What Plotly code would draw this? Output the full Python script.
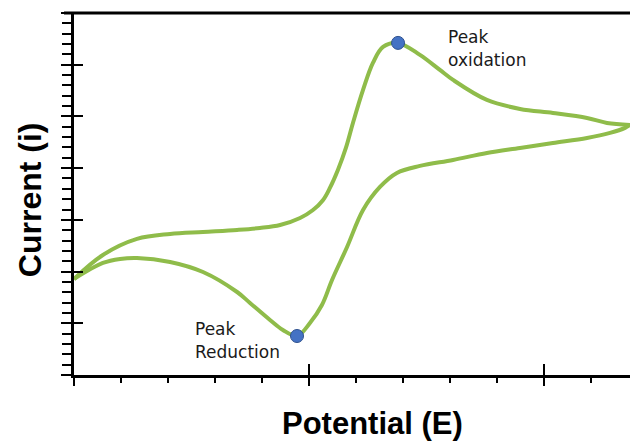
import plotly.graph_objects as go

# Forward (oxidation) scan, left to right
upper_x = [0.0, 0.123, 0.268, 0.409, 0.549, 0.694, 0.791, 0.877, 0.962, 1.017, 1.060, 1.089,
           1.123, 1.157, 1.187, 1.230, 1.272, 1.315, 1.379, 1.472, 1.557, 1.613, 1.757, 1.898,
           2.038, 2.183, 2.268, 2.366]
upper_y = [1.857, 2.321, 2.631, 2.727, 2.766, 2.805, 2.843, 2.901, 3.037, 3.191, 3.385, 3.617,
           3.965, 4.391, 4.874, 5.513, 6.035, 6.344, 6.422, 6.190, 5.899, 5.706, 5.319, 5.145,
           5.068, 4.971, 4.874, 4.836]

# Reverse (reduction) scan, right to left
lower_x = [2.366, 2.345, 2.281, 2.183, 2.038, 1.898, 1.757, 1.613, 1.472, 1.374, 1.302, 1.230,
           1.162, 1.098, 1.055, 1.004, 0.949, 0.889, 0.834, 0.749, 0.694, 0.549, 0.409, 0.268,
           0.196, 0.123, 0.0]
lower_y = [4.836, 4.778, 4.681, 4.584, 4.487, 4.391, 4.294, 4.159, 4.043, 3.907, 3.636, 3.191,
           2.476, 1.838, 1.354, 1.006, 0.754, 0.870, 1.064, 1.393, 1.605, 1.992, 2.186, 2.263,
           2.244, 2.166, 1.857]

peak_x = [1.379, 0.949]
peak_y = [6.422, 0.754]

x_range = [0, 2.366]
y_range = [0, 7]

GREEN = "#8FBC4A"
fig = go.Figure()
fig.add_trace(go.Scatter(x=upper_x, y=upper_y, mode="lines",
                         line=dict(color=GREEN, width=4, shape="spline", smoothing=1.0),
                         showlegend=False, hoverinfo="skip"))
fig.add_trace(go.Scatter(x=lower_x, y=lower_y, mode="lines",
                         line=dict(color=GREEN, width=4, shape="spline", smoothing=1.0),
                         showlegend=False, hoverinfo="skip"))
fig.add_trace(go.Scatter(x=peak_x, y=peak_y, mode="markers", xaxis="x2", yaxis="y2",
                         marker=dict(color="#4472C4", size=13, line=dict(color="#2F528F", width=1)),
                         showlegend=False, hoverinfo="skip"))

lab_font = dict(family="DejaVu Sans", size=17, color="#1a1a1a")
title_font = dict(family="Liberation Sans, Arial", size=32, color="#000000")
xtitle_font = dict(family="Liberation Sans, Arial", size=31, color="#000000")

annotations = [
    dict(x=1.583, y=(375 - 37) / 51.7, xref="x", yref="y", text="Peak", showarrow=False,
         xanchor="left", yanchor="middle", font=lab_font),
    dict(x=1.583, y=(375 - 60) / 51.7, xref="x", yref="y", text="oxidation", showarrow=False,
         xanchor="left", yanchor="middle", font=lab_font),
    dict(x=0.506, y=(375 - 329) / 51.7, xref="x", yref="y", text="Peak", showarrow=False,
         xanchor="left", yanchor="middle", font=lab_font),
    dict(x=0.506, y=(375 - 352) / 51.7, xref="x", yref="y", text="Reduction", showarrow=False,
         xanchor="left", yanchor="middle", font=lab_font),
    dict(x=0, xshift=-44, y=0.483, xref="paper", yref="paper", text="<b>Current (i)</b>",
         textangle=-90, showarrow=False, xanchor="center", yanchor="middle", font=title_font),
    dict(x=0.537, y=0, yshift=-48, xref="paper", yref="paper", text="<b>Potential (E)</b>",
         showarrow=False, xanchor="center", yanchor="middle", font=xtitle_font),
]

axis_common = dict(showgrid=False, zeroline=False, showticklabels=False)

fig.update_layout(
    width=630, height=441, autosize=False,
    margin=dict(l=74, r=0, t=13, b=66),
    paper_bgcolor="white", plot_bgcolor="white",
    xaxis=dict(range=x_range, showline=True, linewidth=3, linecolor="black",
               ticks="outside", ticklen=8, tickwidth=2, tickcolor="black", tick0=0, dtick=1,
               minor=dict(ticks="outside", ticklen=5, tickwidth=2, tickcolor="black", dtick=0.2),
               **axis_common),
    yaxis=dict(range=y_range, showline=True, linewidth=3, linecolor="black",
               ticks="outside", ticklen=10, tickwidth=2, tickcolor="black", tick0=0, dtick=1,
               minor=dict(ticks="outside", ticklen=9, tickwidth=2, tickcolor="black", dtick=0.2),
               **axis_common),
    xaxis2=dict(range=x_range, overlaying="x", anchor="y2", showline=False,
                ticks="inside", ticklen=11, tickwidth=2, tickcolor="black", tick0=0, dtick=1,
                **axis_common),
    yaxis2=dict(range=y_range, overlaying="y", anchor="x2", showline=False,
                ticks="inside", ticklen=9, tickwidth=2, tickcolor="black", tick0=0, dtick=1,
                **axis_common),
    annotations=annotations,
    shapes=[dict(type="line", xref="paper", yref="paper", x0=-0.018, x1=1, y0=1, y1=1,
                 line=dict(color="black", width=3))],
)

fig.write_html("out.html", config={"displayModeBar": False},
               post_script="document.body.style.margin='0';document.body.style.padding='0';")
